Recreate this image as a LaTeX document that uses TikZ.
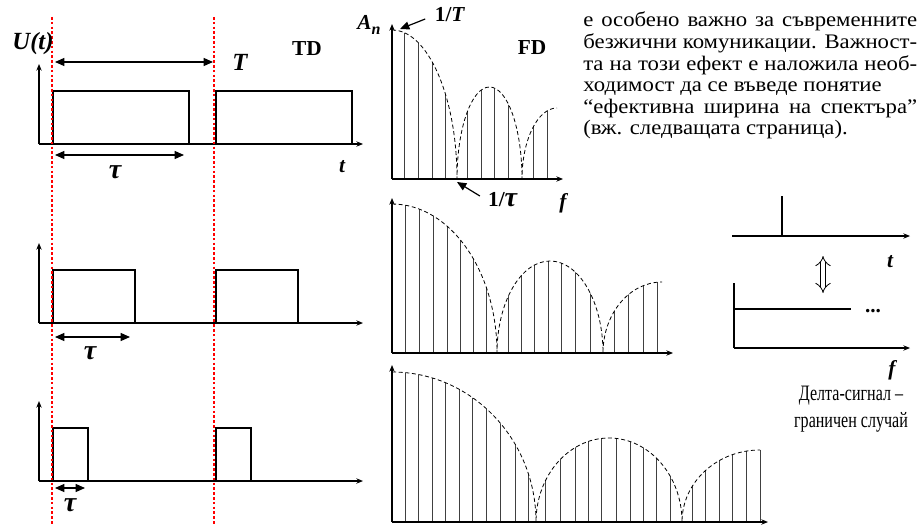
\documentclass[tikz,border=0pt]{standalone}
\usepackage{fontspec}
\setmainfont{Liberation Serif}
\usetikzlibrary{arrows.meta}

\begin{document}
\begin{tikzpicture}[x=0.75pt, y=0.75pt,
  axis/.style={line width=1.1pt, -{Stealth[length=5pt,width=4pt]}},
  pulse/.style={line width=1.5pt},
  dimarrow/.style={line width=0.9pt, {Triangle[length=7pt,width=6pt]}-{Triangle[length=7pt,width=6pt]}},
  pointer/.style={line width=0.9pt, -{Triangle[length=7pt,width=6pt]}},
  redline/.style={red, line width=2pt, dash pattern=on 2pt off 1.6pt},
  envelope/.style={line width=0.6pt, dash pattern=on 3pt off 2pt},
  harm/.style={line width=0.6pt, black!75},
  lbl/.style={font=\fontsize{16}{18}\selectfont\bfseries\itshape, inner sep=0pt},
  biglbl/.style={font=\fontsize{18.5}{20}\selectfont\bfseries\itshape, inner sep=0pt},
  taulbl/.style={font=\fontsize{21}{22}\selectfont\bfseries\itshape, inner sep=0pt},
  hdr/.style={font=\fontsize{16}{18}\selectfont\bfseries, inner sep=0pt},
  body/.style={font=\fontsize{15.5}{16.2}\selectfont, inner sep=0pt},
  spec env/.style n args={6}{insert path={
    arc[start angle=90, end angle=0, x radius=#1, y radius=#2]
    arc[start angle=180, end angle=0, x radius=#3, y radius=#4]
    arc[start angle=180, end angle=90, x radius=#5, y radius=#6]}}]

\useasboundingbox (0,0) rectangle (919,-524);

% time domain: three pulse trains
\foreach \b/\w in {144/136, 323/82, 481/35} {
    \draw[axis] (39,-\b) -- (39,-\b+80);
    \draw[axis] (39,-\b) -- (363,-\b);
    \draw[pulse] (53,-\b) rectangle (53+\w,-\b+53);
    \draw[pulse] (216,-\b) rectangle (216+\w,-\b+53);
}
\draw[dimarrow] (55,-62) -- (213,-62);
\draw[dimarrow] (55,-155) -- (184,-155);
\draw[dimarrow] (55,-337) -- (130,-337);
\draw[dimarrow] (55,-488) -- (85,-488);
\foreach \x in {52, 214}
    \draw[redline] (\x,-17) -- (\x,-524);

\node[biglbl] (Ut) at (33,-44) {U(t)};
\node[biglbl] (Tlbl) at (240,-62) {T};
\node[hdr] (TD) at (307,-49) {TD};
\node[lbl] (tlbl) at (342,-167) {t};
\node[taulbl] (tau1) at (115,-172) {τ};
\node[taulbl] (tau2) at (90,-353) {τ};
\node[taulbl] (tau3) at (70,-505) {τ};

% frequency domain: line spectra
\begin{scope}
\clip (392,-179) -- (392,-30) [spec env={65}{149}{32.5}{92}{35}{71}] -- ++(3,0) |- (392,-179) -- cycle;
\foreach \x in {404, 418, 432, 445, 467, 481, 494, 508, 533, 547}
    \draw[harm] (\x,-179) -- (\x,-20);
\end{scope}
\draw[envelope] (392,-30) [spec env={65}{149}{32.5}{92}{35}{71}];
\draw[axis] (392,-179) -- (392,-24);
\draw[axis] (392,-179) -- (563,-179);

\begin{scope}
\clip (392,-353) -- (392,-204) [spec env={105}{149}{53}{92}{59}{71}] -- ++(3,0) |- (392,-353) -- cycle;
\foreach \x in {405.7, 419.7, 433.7, 447, 460.3, 473.3, 486.7, 508.7, 521.3, 534.3,
                548.3, 561.7, 575.7, 590, 614.3, 628.3, 643.3, 657.7}
    \draw[harm] (\x,-353) -- (\x,-190);
\end{scope}
\draw[envelope] (392,-204) [spec env={105}{149}{53}{92}{59}{71}];
\draw[axis] (392,-353) -- (392,-198);
\draw[axis] (392,-353) -- (673,-353);

\begin{scope}
\clip (392,-522) -- (392,-372) [spec env={144}{150}{73}{84}{78}{72}] -- ++(3,0) |- (392,-522) -- cycle;
\foreach \x in {405, 418.3, 432.3, 445.7, 459, 472.3, 486.7, 500.7, 515, 528.3,
                545.7, 560, 575, 588.3, 601.7, 616, 630, 643.3, 656.7, 670,
                692.3, 705.7, 719, 732.7, 746.7, 760}
    \draw[harm] (\x,-522) -- (\x,-360);
\end{scope}
\draw[envelope] (392,-372) [spec env={144}{150}{73}{84}{78}{72}];
\draw[axis] (392,-522) -- (392,-365);
\draw[axis] (392,-522) -- (768,-522);

\node[lbl] (An) at (369,-25) {A\raisebox{-0.45ex}{\fontsize{12}{12}\selectfont n}};
\node[hdr] (invT) at (450,-15) {1/\textit{T}};
\node[hdr] (FD) at (532,-48) {FD};
\node[hdr] (invtau) at (503,-200) {1/\textit{\fontsize{21}{22}\selectfont τ}};
\node[lbl] (flbl) at (563,-203) {f};
\coordinate (peak) at (400,-29);
\coordinate (zero1) at (457,-182);
\draw[pointer] ([xshift=-7pt,yshift=-3pt]invT.west) -- (peak);
\draw[pointer] ([xshift=-6pt,yshift=3pt]invtau.west) -- (zero1);

% delta signal, limiting case
\draw[axis] (732,-236) -- (910,-236);
\draw[line width=1.1pt] (782,-236) -- (782,-196);
\node[lbl] (tdelta) at (890,-262) {t};
\draw[line width=0.6pt, double distance=3.5pt, {Implies}-{Implies}] (823,-256) -- (823,-293);
\draw[line width=1.1pt] (734,-283) -- (734,-348);
\draw[axis] (734,-348) -- (910,-348);
\draw[line width=1.1pt] (734,-309) -- (851,-309);
\node[hdr, anchor=base] (dots) at (873,-312) {...};
\node[lbl] (fdelta) at (892,-370) {f};
\node[body, font=\fontsize{16.5}{20.3}\selectfont] (caption) at (851,-409)
  {\scalebox{0.73}[1]{\begin{tabular}{@{}c@{}}Делта-сигнал –\\граничен случай\end{tabular}}};

% running text
\node[body, anchor=north west] (note) at (583,-11.6)
  {\scalebox{1.10}[1]{\begin{tabular}[t]{@{}l@{}}
   \makebox[227.7pt][s]{е особено важно за съвременните}\\
   \makebox[227.7pt][s]{безжични комуникации. Важност-}\\
   \makebox[227.7pt][s]{та на този ефект е наложила необ-}\\
   ходимост да се въведе понятие\\
   \makebox[227.7pt][s]{“ефективна ширина на спектъра”}\\
   (вж. следващата страница).
   \end{tabular}}};
\end{tikzpicture}
\end{document}
